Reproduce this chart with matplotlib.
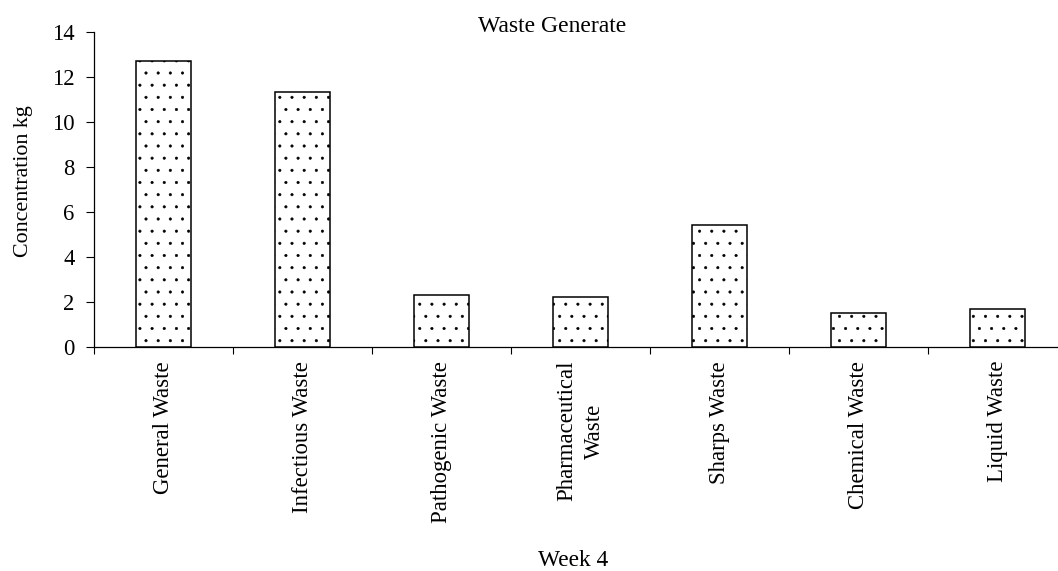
import matplotlib
matplotlib.use('Agg')
import matplotlib.pyplot as plt
import numpy as np

categories = ['General Waste', 'Infectious Waste', 'Pathogenic Waste',
              'Pharmaceutical\nWaste', 'Sharps Waste', 'Chemical Waste',
              'Liquid Waste']
amounts = [12.7, 11.3, 2.3, 2.2, 5.4, 1.5, 1.7]
yticks = [0, 2, 4, 6, 8, 10, 12, 14]

# a low dpi gives the '.' hatch a finer stipple; S rescales point sizes
DPI = 73
S = 100 / DPI
W, H = 1058, 571

plt.rcParams['font.family'] = ['Liberation Serif', 'DejaVu Serif']
plt.rcParams['hatch.linewidth'] = 0.4 * S
plt.rcParams['hatch.color'] = 'black'

fig = plt.figure(figsize=(W / DPI, H / DPI), dpi=DPI)
ax = fig.add_axes([94 / W, 1 - 347 / H, 973 / W, (347 - 31.5) / H])

x = np.arange(len(categories))
ax.bar(x, amounts, width=0.4, color='white', edgecolor='black',
       linewidth=1.1 * S, hatch='.', zorder=3)

ax.set_xlim(-0.5, len(categories) - 0.5)
ax.set_ylim(0, 14)
ax.set_yticks(yticks)
ax.set_yticklabels([str(v) for v in yticks], fontsize=16.3 * S)

# category labels sit between the boundary ticks
ax.set_xticks(x)
ax.set_xticklabels(categories, rotation=90, fontsize=16.4 * S,
                   ha='center', va='top', multialignment='center',
                   linespacing=1.45)
ax.tick_params(axis='x', which='major', length=0, pad=10 * S)
ax.set_xticks(np.arange(len(categories) + 1) - 0.5, minor=True)
ax.tick_params(axis='x', which='minor', length=5 * S, width=0.8 * S,
               direction='out')
ax.tick_params(axis='y', length=5.5 * S, width=0.8 * S, direction='out',
               pad=8.5 * S)

for side in ['top', 'right']:
    ax.spines[side].set_visible(False)
for side in ['left', 'bottom']:
    ax.spines[side].set_linewidth(0.9 * S)

ax.set_ylabel('Concentration kg', fontsize=15.8 * S)
ax.yaxis.set_label_coords((33 - 94) / 973, (347 - 181) / 315.5)
ax.set_title('Waste Generate', fontsize=17 * S, x=0.471, y=1.0, pad=0)
ax.set_xlabel('Week 4', fontsize=16.8 * S)
ax.xaxis.set_label_coords((573 - 94) / 973, -(550 - 347) / 315.5)

fig.savefig('out.png', dpi=DPI)
